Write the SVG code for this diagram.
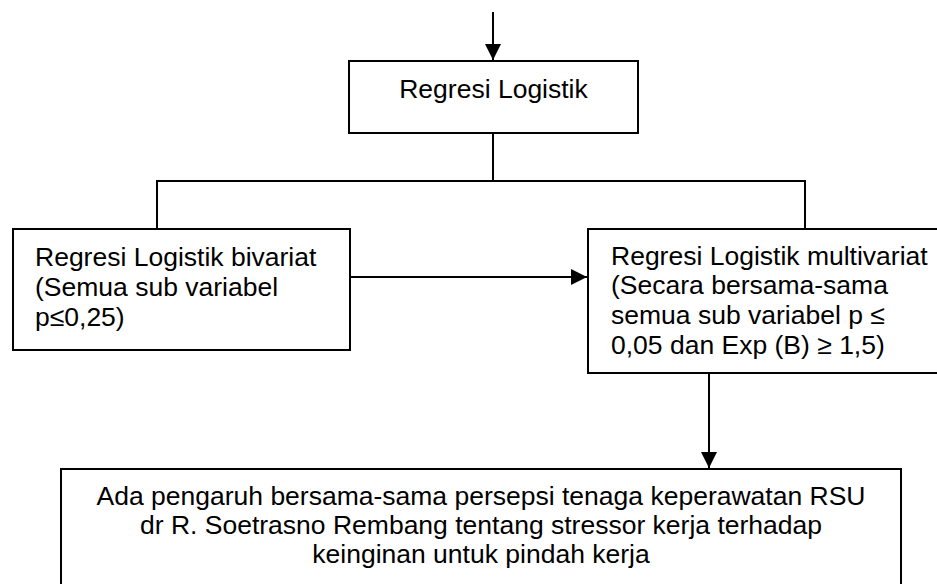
<svg xmlns="http://www.w3.org/2000/svg" width="937" height="584" viewBox="0 0 937 584">
  <style>
    .box { fill: #ffffff; stroke: #000000; stroke-width: 2; }
    .line { fill: none; stroke: #000000; stroke-width: 2; }
    text { font-family: "Liberation Sans", Arial, sans-serif; font-size: 26.5px; fill: #000000; }
    .c { text-anchor: middle; }
  </style>
  <defs>
    <marker id="arrow" viewBox="0 0 16 16" refX="16" refY="8" markerWidth="16" markerHeight="16" markerUnits="userSpaceOnUse" orient="auto">
      <path d="M0,0 L16,8 L0,16 Z" fill="#000000"/>
    </marker>
  </defs>

  <rect width="937" height="584" fill="#ffffff"/>

  <g id="connectors">
    <!-- incoming arrow into the first step -->
    <line class="line" x1="493" y1="12" x2="493" y2="60" marker-end="url(#arrow)"/>
    <!-- split into the two analyses -->
    <polyline class="line" points="493,133 493,181"/>
    <polyline class="line" points="157,229 157,181 805,181 805,229"/>
    <!-- bivariate to multivariate -->
    <line class="line" x1="350" y1="277" x2="587" y2="277" marker-end="url(#arrow)"/>
    <!-- multivariate to conclusion -->
    <line class="line" x1="709" y1="373" x2="709" y2="468" marker-end="url(#arrow)"/>
  </g>

  <g id="regresi-logistik">
    <rect class="box" x="349" y="61" width="289" height="72"/>
    <text class="c" x="493.5" y="98">Regresi Logistik</text>
  </g>

  <g id="bivariat">
    <rect class="box" x="13" y="229" width="337" height="121"/>
    <text x="35" y="266">Regresi Logistik bivariat</text>
    <text x="35" y="296">(Semua sub variabel</text>
    <text x="35" y="326">p≤0,25)</text>
  </g>

  <g id="multivariat">
    <rect class="box" x="588" y="229" width="360" height="144"/>
    <text x="611" y="265">Regresi Logistik multivariat</text>
    <text x="611" y="294">(Secara bersama-sama</text>
    <text x="611" y="324">semua sub variabel p ≤</text>
    <text x="611" y="354">0,05 dan Exp (B) ≥ 1,5)</text>
  </g>

  <g id="kesimpulan">
    <rect class="box" x="61" y="469" width="840" height="140"/>
    <text class="c" x="481" y="505">Ada pengaruh bersama-sama persepsi tenaga keperawatan RSU</text>
    <text class="c" x="481" y="534">dr R. Soetrasno Rembang tentang stressor kerja terhadap</text>
    <text class="c" x="481" y="563">keinginan untuk pindah kerja</text>
  </g>
</svg>
